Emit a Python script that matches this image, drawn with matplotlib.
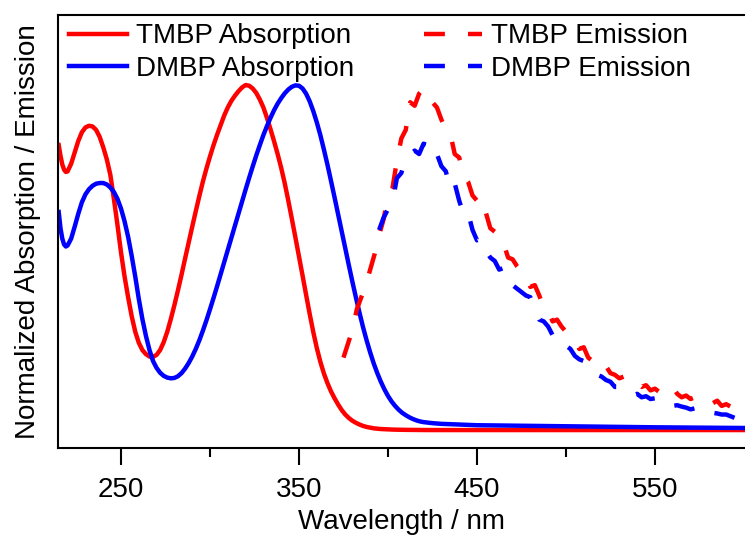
import matplotlib
matplotlib.use('Agg')
import matplotlib.pyplot as plt
import numpy as np

plt.rcParams['font.family'] = ['Liberation Sans', 'DejaVu Sans']

# absorption spectra (normalized)
abs_wl = [215, 216, 217, 218, 219, 220] + list(range(222, 421, 2)) + [425, 430, 440, 450, 500, 550, 600]
tmbp_abs = [0.826, 0.795, 0.77, 0.755, 0.748, 0.75,
            0.772, 0.805, 0.838, 0.863, 0.877, 0.882, 0.88, 0.87, 0.85, 0.82,
            0.785, 0.74, 0.67, 0.595, 0.515, 0.445, 0.385, 0.33, 0.285, 0.253,
            0.232, 0.22, 0.213, 0.212, 0.218, 0.232, 0.255, 0.285, 0.322, 0.362,
            0.405, 0.45, 0.497, 0.543, 0.589, 0.634, 0.678, 0.72, 0.758, 0.793,
            0.826, 0.856, 0.884, 0.912, 0.935, 0.954, 0.969, 0.982, 0.993, 1.0,
            0.998, 0.99, 0.977, 0.958, 0.935, 0.905, 0.872, 0.837, 0.80, 0.76,
            0.715, 0.665, 0.612, 0.558, 0.503, 0.448, 0.392, 0.337, 0.285, 0.238,
            0.198, 0.164, 0.136, 0.112, 0.092, 0.074, 0.058, 0.045, 0.035, 0.027,
            0.021, 0.016, 0.012, 0.009, 0.007, 0.005, 0.004, 0.003, 0.0025, 0.002,
            0.0015, 0.0012, 0.001, 0.0008, 0.0006, 0.0005, 0.0004, 0.0003, 0.0002, 0.0001,
            0.0, 0.0, 0.0, 0.0, 0.0, 0.0, 0.0]
dmbp_abs = [0.632, 0.585, 0.555, 0.538, 0.532, 0.535,
            0.555, 0.59, 0.627, 0.66, 0.683, 0.698, 0.708, 0.714, 0.716, 0.716,
            0.712, 0.703, 0.69, 0.67, 0.642, 0.605, 0.56, 0.505, 0.445, 0.38,
            0.322, 0.273, 0.232, 0.20, 0.18, 0.166, 0.157, 0.152, 0.15, 0.151,
            0.156, 0.165, 0.178, 0.194, 0.213, 0.235, 0.26, 0.288, 0.318, 0.35,
            0.383, 0.417, 0.452, 0.487, 0.522, 0.557, 0.592, 0.627, 0.662, 0.697,
            0.731, 0.764, 0.796, 0.826, 0.855, 0.881, 0.905, 0.927, 0.946, 0.962,
            0.976, 0.987, 0.995, 0.999, 0.998, 0.99, 0.975, 0.953, 0.925, 0.892,
            0.855, 0.813, 0.769, 0.722, 0.674, 0.625, 0.576, 0.527, 0.478, 0.43,
            0.384, 0.34, 0.298, 0.26, 0.225, 0.193, 0.165, 0.14, 0.118, 0.099,
            0.083, 0.07, 0.059, 0.05, 0.043, 0.037, 0.032, 0.028, 0.025, 0.023,
            0.02, 0.018, 0.016, 0.014, 0.011, 0.008, 0.006]

# emission spectra (normalized, noisy)
tmbp_em_wl = np.arange(375, 600.1, 2.5)
tmbp_em = [0.21, 0.25, 0.29, 0.35, 0.385, 0.42, 0.465, 0.51, 0.565, 0.61,
           0.675, 0.70, 0.78, 0.845, 0.87, 0.95, 0.94, 0.975, 0.99, 0.97,
           0.95, 0.935, 0.90, 0.87, 0.86, 0.80, 0.79, 0.74, 0.72, 0.68,
           0.665, 0.62, 0.63, 0.585, 0.575, 0.545, 0.54, 0.50, 0.495, 0.475,
           0.46, 0.445, 0.415, 0.42, 0.39, 0.355, 0.345, 0.315, 0.32, 0.30,
           0.285, 0.275, 0.265, 0.235, 0.24, 0.21, 0.20, 0.195, 0.175, 0.185,
           0.165, 0.16, 0.15, 0.155, 0.14, 0.13, 0.135, 0.125, 0.13, 0.115,
           0.12, 0.11, 0.105, 0.115, 0.125, 0.105, 0.095, 0.10, 0.09, 0.095,
           0.085, 0.09, 0.08, 0.078, 0.085, 0.07, 0.075, 0.068, 0.08, 0.07,
           0.072]
dmbp_em_wl = np.arange(395, 600.1, 2.5)
dmbp_em = [0.58, 0.615, 0.64, 0.66, 0.73, 0.745, 0.79, 0.80, 0.81, 0.80,
           0.83, 0.825, 0.79, 0.80, 0.765, 0.75, 0.70, 0.715, 0.665, 0.625,
           0.63, 0.58, 0.55, 0.555, 0.52, 0.50, 0.49, 0.465, 0.47, 0.43,
           0.42, 0.41, 0.40, 0.39, 0.385, 0.35, 0.32, 0.315, 0.30, 0.275,
           0.28, 0.26, 0.245, 0.235, 0.215, 0.205, 0.20, 0.175, 0.17, 0.16,
           0.155, 0.145, 0.14, 0.125, 0.125, 0.12, 0.115, 0.10, 0.105, 0.095,
           0.098, 0.09, 0.092, 0.08, 0.085, 0.075, 0.07, 0.072, 0.068, 0.065,
           0.06, 0.063, 0.05, 0.055, 0.058, 0.05, 0.048, 0.045, 0.045, 0.04,
           0.035, 0.04, 0.038]

fig = plt.figure(figsize=(7.45, 5.36), dpi=100)
ax = fig.add_axes([58 / 745, 1 - 448 / 536, 687 / 745, 433 / 536])

lw = 3.2
dash = (4.7, 5.2)
ax.plot(abs_wl, tmbp_abs, color='red', lw=lw, label='TMBP Absorption')
ax.plot(abs_wl, dmbp_abs, color='blue', lw=lw, label='DMBP Absorption')
ax.plot(tmbp_em_wl, tmbp_em, color='red', lw=lw, dashes=dash, label='TMBP Emission')
ax.plot(dmbp_em_wl, dmbp_em, color='blue', lw=lw, dashes=dash, label='DMBP Emission')

ax.set_xlim(214.6, 600.6)
ax.set_ylim(-0.052, 1.203)
ax.set_xticks([250, 350, 450, 550])
ax.set_xticks([300, 400, 500], minor=True)
ax.tick_params(axis='x', which='major', direction='out', length=12, width=1.5,
               labelsize=20, pad=9)
ax.tick_params(axis='x', which='minor', direction='out', length=6.5, width=1.5)
ax.tick_params(axis='y', left=False, labelleft=False)
for s in ['left', 'bottom', 'top']:
    ax.spines[s].set_linewidth(1.5)
ax.spines['right'].set_visible(False)

ax.set_xlabel('Wavelength / nm', fontsize=20, labelpad=4)
ax.set_ylabel('Normalized Absorption / Emission', fontsize=20, labelpad=12)

handles, labels = ax.get_legend_handles_labels()
ax.legend(handles, labels, ncol=2, loc='upper left', bbox_to_anchor=(0.016, 0.981),
          frameon=False, fontsize=20, borderpad=0, borderaxespad=0,
          handlelength=2.1, handletextpad=0.32, columnspacing=2.5, labelspacing=0.25)

fig.savefig('out.png', dpi=100)
